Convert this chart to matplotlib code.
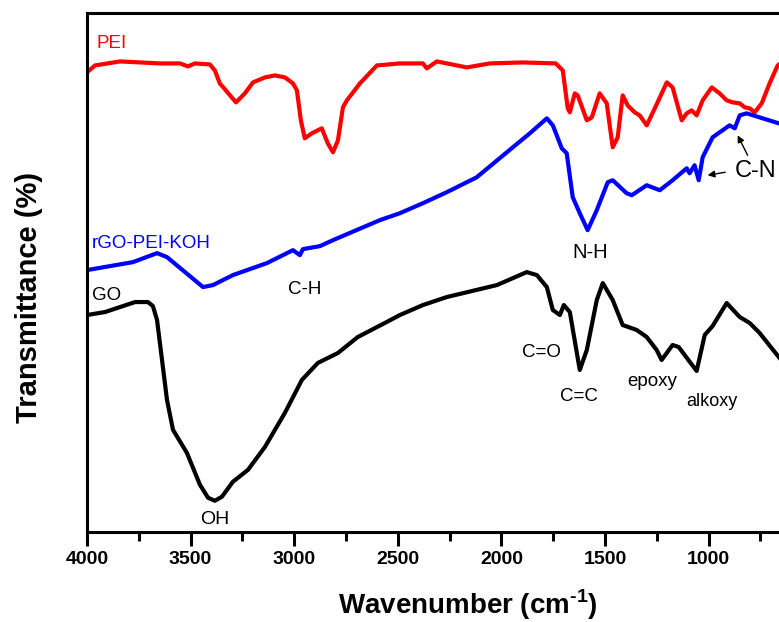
import numpy as np
import matplotlib
matplotlib.use("Agg")
import matplotlib.pyplot as plt
from matplotlib.ticker import FixedLocator, MultipleLocator

plt.rcParams['font.family'] = ['Liberation Sans', 'DejaVu Sans']
plt.rcParams['mathtext.fontset'] = 'custom'
plt.rcParams['mathtext.rm'] = 'Liberation Sans'
plt.rcParams['mathtext.bf'] = 'Liberation Sans:bold'

# FTIR spectra (wavenumber cm-1, transmittance a.u.)
pei_wn = [4000, 3961, 3841, 3744, 3648, 3551, 3513, 3479, 3407, 3383, 3359, 3330,
          3281, 3238, 3199, 3141, 3093, 3045, 3006, 2987, 2968, 2949, 2915, 2867,
          2838, 2813, 2789, 2765, 2746, 2683, 2601, 2490, 2379, 2360, 2312, 2167,
          2056, 1897, 1738, 1704, 1680, 1670, 1646, 1632, 1588, 1564, 1526, 1492,
          1463, 1439, 1415, 1391, 1357, 1333, 1299, 1260, 1202, 1174, 1130, 1106,
          1082, 1058, 1029, 985, 947, 913, 884, 850, 826, 802, 778, 744, 706, 667,
          620, 560]
pei_t = [460, 467, 471, 470, 469, 469, 466, 469, 468, 462, 449, 442,
         430, 439, 450, 455, 457, 455, 449, 442, 412, 394, 399, 404,
         389, 380, 392, 425, 432, 449, 467, 469, 469, 464, 471, 465,
         469, 470, 469, 462, 424, 420, 439, 437, 412, 415, 439, 429,
         385, 395, 437, 427, 420, 417, 407, 424, 450, 445, 412, 419,
         422, 417, 432, 445, 439, 432, 430, 429, 425, 424, 420, 429, 449, 467,
         474, 476]

rgo_wn = [4000, 3889, 3778, 3662, 3614, 3527, 3440, 3392, 3296, 3132, 3006, 2973,
          2958, 2876, 2813, 2587, 2490, 2379, 2264, 2119, 1945, 1863, 1781, 1752,
          1709, 1685, 1656, 1622, 1584, 1540, 1487, 1463, 1396, 1371, 1299, 1236,
          1174, 1106, 1092, 1068, 1048, 1029, 981, 899, 874, 850, 817, 739, 662,
          600]
rgo_t = [262, 266, 270, 279, 275, 260, 245, 247, 257, 269, 282, 277,
         283, 286, 292, 312, 319, 329, 340, 355, 385, 399, 414, 407,
         384, 379, 335, 319, 302, 322, 350, 352, 339, 337, 347, 342,
         352, 364, 359, 367, 352, 375, 395, 407, 404, 417, 419, 414, 409,
         405]

go_wn = [4000, 3913, 3768, 3706, 3682, 3662, 3638, 3614, 3585, 3518, 3455, 3416,
         3383, 3349, 3296, 3223, 3141, 3045, 2963, 2886, 2789, 2693, 2563, 2490,
         2379, 2264, 2022, 1878, 1829, 1781, 1752, 1718, 1699, 1670, 1622, 1588,
         1540, 1511, 1463, 1415, 1347, 1299, 1251, 1227, 1174, 1145, 1058, 1019,
         981, 913, 850, 802, 754, 662, 600]
go_t = [217, 220, 230, 230, 226, 212, 172, 132, 102, 79, 47, 34,
        31, 35, 50, 62, 85, 119, 152, 169, 179, 195, 209, 217,
        227, 235, 247, 260, 257, 245, 222, 217, 227, 220, 162, 182,
        232, 249, 232, 207, 202, 195, 182, 172, 187, 185, 161, 197,
        206, 229, 215, 209, 199, 175, 160]

# peak labels: text, wavenumber, transmittance, colour, size
labels = [
    ("PEI", 3952, 484, 'red', 13.5),
    ("rGO-PEI-KOH", 3976, 284, 'blue', 13.5),
    ("GO", 3976, 232, 'black', 13.5),
    ("C-H", 3031, 238, 'black', 13.5),
    ("OH", 3455, 8, 'black', 14),
    ("N-H", 1656, 274, 'black', 14.5),
    ("C=O", 1902, 175, 'black', 13.5),
    ("C=C", 1719, 131, 'black', 13.5),
    ("epoxy", 1395, 146, 'black', 13.5),
    ("alkoxy", 1106, 126, 'black', 13),
    ("C-N", 875, 355, 'black', 17),
]

major_ticks = [4000, 3500, 3000, 2500, 2000, 1500, 1000]

fig = plt.figure(figsize=(7.79, 6.22), dpi=100)
ax = fig.add_axes([87 / 779, 90.3 / 622, 746 / 779, 519.2 / 622])

ax.plot(pei_wn, pei_t, color='red', lw=3, solid_joinstyle='round')
ax.plot(rgo_wn, rgo_t, color='blue', lw=3, solid_joinstyle='round')
ax.plot(go_wn, go_t, color='black', lw=3, solid_joinstyle='round')

for txt, x, y, c, s in labels:
    ax.text(x, y, txt, color=c, fontsize=s, ha='left', va='baseline')

# arrows pointing at the C-N bands
ax.annotate('', xy=(1005, 357), xytext=(920, 360),
            arrowprops=dict(arrowstyle='-|>', color='black', lw=1,
                            mutation_scale=10, shrinkA=0, shrinkB=0))
ax.annotate('', xy=(860, 397), xytext=(812, 377),
            arrowprops=dict(arrowstyle='-|>', color='black', lw=1,
                            mutation_scale=10, shrinkA=0, shrinkB=0))

ax.set_xlim(4000, 400)
ax.set_ylim(0, 520)
ax.set_yticks([])
ax.xaxis.set_major_locator(FixedLocator(major_ticks))
ax.xaxis.set_minor_locator(MultipleLocator(250))
ax.tick_params(axis='x', which='major', direction='out', length=10, width=2.2,
               labelsize=14, pad=4)
ax.tick_params(axis='x', which='minor', direction='out', length=6.5, width=2.2)
for lab in ax.get_xticklabels():
    lab.set_fontweight('bold')

for side in ['left', 'bottom', 'top']:
    ax.spines[side].set_linewidth(2.2)
ax.spines['right'].set_visible(False)

ax.set_xlabel('Wavenumber (cm$^{\\mathbf{\u20101}}$)', fontsize=20, fontweight='bold')
ax.set_ylabel('Transmittance (%)', fontsize=21, fontweight='bold')
ax.xaxis.set_label_coords(0.511, -0.107)
ax.yaxis.set_label_coords(-0.059, 0.452)

plt.savefig('out.png', dpi=100)
